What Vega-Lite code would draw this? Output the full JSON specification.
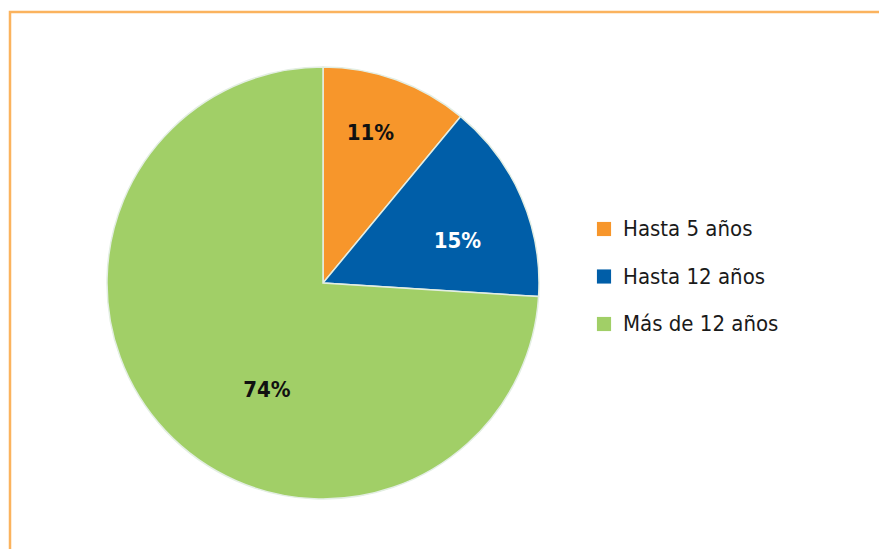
{
  "$schema": "https://vega.github.io/schema/vega-lite/v6.json",
  "autosize": "none",
  "padding": {"left": 10, "top": 12, "right": 0, "bottom": 0},
  "width": 900,
  "height": 560,
  "background": "white",
  "config": {
    "view": {"stroke": "#FBB35E", "strokeWidth": 2.5},
    "font": "DejaVu Sans Condensed, Roboto, sans-serif"
  },
  "data": {
    "values": [
      {"grupo": "Hasta 5 años", "pct": 11, "label": "11%"},
      {"grupo": "Hasta 12 años", "pct": 15, "label": "15%"},
      {"grupo": "Más de 12 años", "pct": 74, "label": "74%"}
    ]
  },
  "encoding": {
    "theta": {"field": "pct", "type": "quantitative", "stack": true},
    "x": {"value": 313},
    "y": {"value": 271},
    "order": {"field": "pct", "type": "quantitative", "sort": "ascending"},
    "color": {
      "field": "grupo",
      "type": "nominal",
      "sort": ["Hasta 5 años", "Hasta 12 años", "Más de 12 años"],
      "scale": {
        "domain": ["Hasta 5 años", "Hasta 12 años", "Más de 12 años"],
        "range": ["#F7962B", "#005EA8", "#A1CF67"]
      },
      "legend": {
        "title": null,
        "orient": "none",
        "legendX": 583,
        "legendY": 206,
        "symbolType": "square",
        "symbolSize": 200,
        "symbolStrokeWidth": 0,
        "labelFontSize": 22,
        "labelFont": "DejaVu Sans Condensed, Roboto, sans-serif",
        "labelColor": "#1a1a1a",
        "labelOffset": 8,
        "rowPadding": 25.5,
        "labelLimit": 300
      }
    }
  },
  "layer": [
    {
      "mark": {"type": "arc", "outerRadius": 216, "stroke": "#E3EEE3", "strokeWidth": 1.5}
    },
    {
      "mark": {
        "type": "text",
        "radius": 140,
        "fontSize": 22,
        "fontWeight": "bold",
        "font": "DejaVu Sans Condensed, Roboto, sans-serif",
        "dx": {"expr": "datum.grupo == 'Más de 12 años' ? 46 : datum.grupo == 'Hasta 12 años' ? 6 : 0"},
        "dy": {"expr": "datum.grupo == 'Más de 12 años' ? 11 : datum.grupo == 'Hasta 12 años' ? 14 : -18"}
      },
      "encoding": {
        "text": {"field": "label"},
        "color": {
          "condition": {"test": "datum.grupo == 'Hasta 12 años'", "value": "white"},
          "value": "#111111"
        }
      }
    }
  ]
}
